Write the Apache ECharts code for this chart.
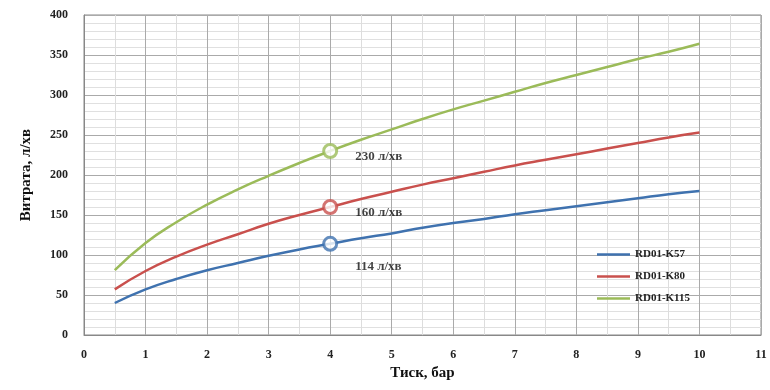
<!DOCTYPE html>
<html>
<head>
<meta charset="utf-8">
<script src="https://cdn.jsdelivr.net/npm/echarts@6/dist/echarts.min.js"></script>
<style>html,body{margin:0;padding:0;background:#fff}#c{width:770px;height:390px}</style>
</head>
<body>
<div id="c"></div>
<script>
const pressure = [0.5,1,1.5,2,2.5,3,3.5,4,4.5,5,5.5,6,6.5,7,7.5,8,8.5,9,9.5,10];
const k57  = [40,57,70,81,90,99,107,114,121,127,134,140,145,151,156,161,166,171,176,180];
const k80  = [57,80,98,113,126,139,150,160,170,179,188,196,204,212,219,226,233,240,247,253];
const k115 = [81,115,141,163,182,199,215,230,244,257,270,282,293,304,315,325,335,345,354,364];
const seriesNames = ['RD01-K57','RD01-K80','RD01-K115'];
const colors = ['#3F72AF','#C9504D','#9BBB59'];
const markX = 4;
const markValues = [114,160,230];
const markLabels = ['114 л/хв','160 л/хв','230 л/хв'];
const xTitle = 'Тиск, бар';
const yTitle = 'Витрата, л/хв';

const serif = '"Liberation Serif","DejaVu Serif",serif';
const all = [k57,k80,k115];
const lineSeries = all.map((vals,i)=>({
  name: seriesNames[i], type:'line', smooth:true, showSymbol:false, symbol:'none',
  data: pressure.map((p,j)=>[p, vals[j]]),
  lineStyle:{color:colors[i], width:2.5}, itemStyle:{color:colors[i]}, z:3
}));
const labelOffsets = [[12,23],[12,6],[12,6]];
const markSeries = markValues.map((v,i)=>({
  name:'m'+i, type:'scatter', symbol:'circle', symbolSize:13,
  data:[[markX, v]],
  itemStyle:{color:'#fff', borderColor:colors[i], borderWidth:3},
  label:{show:true, formatter:markLabels[i], position:'right', offset:labelOffsets[i],
    fontFamily:serif, fontWeight:'bold', fontSize:13, color:'#111'},
  z:5
}));
const chart = echarts.init(document.getElementById('c'));
chart.setOption({
  animation:false,
  grid:{left:84, right:9, top:15, bottom:55, show:true, borderColor:'#888', borderWidth:1},
  legend:{data:seriesNames, orient:'vertical', left:592, top:244, itemWidth:33, itemHeight:2.5,
    itemGap:11, icon:'rect', textStyle:{fontFamily:serif, fontSize:11, fontWeight:'bold', color:'#222'}},
  xAxis:{type:'value', min:0, max:11, interval:1,
    axisLine:{lineStyle:{color:'#888'}}, axisTick:{show:false},
    axisLabel:{fontFamily:serif, fontWeight:'bold', fontSize:12, color:'#222', margin:14},
    splitLine:{lineStyle:{color:'#aaa', width:1}},
    minorTick:{show:false, splitNumber:2},
    minorSplitLine:{show:true, lineStyle:{color:'#ddd'}},
    name:xTitle, nameLocation:'middle', nameGap:31,
    nameTextStyle:{fontFamily:serif, fontWeight:'bold', fontSize:15, color:'#111'}},
  yAxis:{type:'value', min:0, max:400, interval:50,
    axisLine:{show:true, lineStyle:{color:'#888'}}, axisTick:{show:false},
    axisLabel:{fontFamily:serif, fontWeight:'bold', fontSize:12, color:'#222', margin:16},
    splitLine:{lineStyle:{color:'#aaa', width:1}},
    minorTick:{show:false, splitNumber:5},
    minorSplitLine:{show:true, lineStyle:{color:'#e0e0e0'}},
    name:yTitle, nameLocation:'middle', nameGap:50,
    nameTextStyle:{fontFamily:serif, fontWeight:'bold', fontSize:15, color:'#111'}},
  series: lineSeries.concat(markSeries)
});
</script>
</body>
</html>
